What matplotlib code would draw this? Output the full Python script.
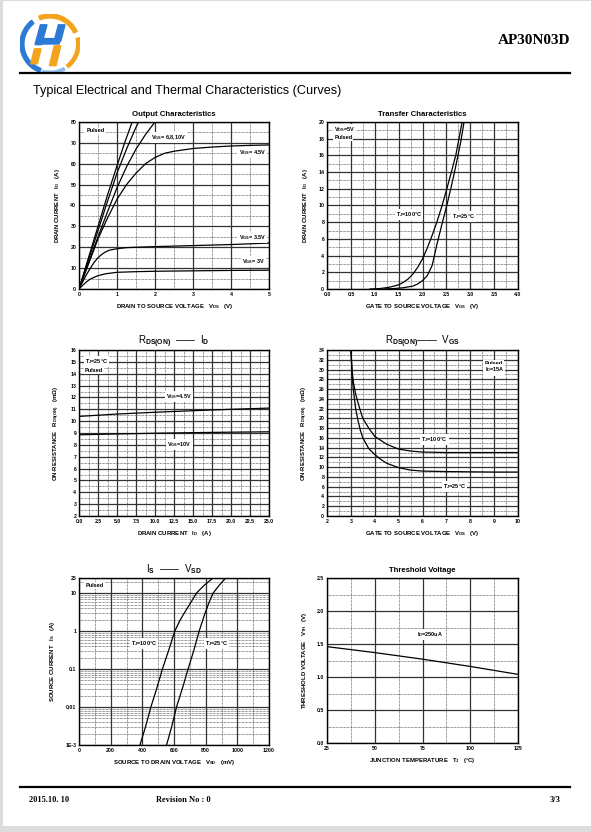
import numpy as np
import matplotlib
matplotlib.use("Agg")
import matplotlib.pyplot as plt
from matplotlib.ticker import MultipleLocator, LogLocator, NullFormatter
from matplotlib.patches import Rectangle, Wedge, Polygon
from matplotlib.lines import Line2D

# ---- data ----
# Output characteristics (VDS in V, ID in A)
vds_3v = [0, 0.1, 0.2, 0.3, 0.5, 0.7, 1.0, 1.5, 2.0, 3.0, 4.0, 5.0]
id_3v = [0, 1.8, 3.5, 4.8, 6.4, 7.3, 8.0, 8.3, 8.5, 8.7, 8.9, 9.0]
vds_35v = [0, 0.1, 0.2, 0.3, 0.4, 0.5, 0.6, 0.7, 0.8, 1.0, 1.25, 1.5, 2.0, 3.0, 4.0, 5.0]
id_35v = [0, 3.5, 7.0, 10.0, 12.8, 15.0, 16.6, 17.8, 18.6, 19.3, 19.8, 20.0, 20.3, 20.8, 21.3, 22.0]
vds_45v = [0, 0.25, 0.5, 0.75, 1.0, 1.25, 1.5, 1.75, 2.0, 2.25, 2.5, 3.0, 3.5, 4.0, 4.5, 5.0]
id_45v = [0, 12, 24, 34, 43, 50, 55.5, 60, 63, 65, 66, 67.3, 68, 68.5, 68.8, 69]
vds_6v = [0, 0.25, 0.5, 0.75, 1.0, 1.25, 1.5, 1.75, 2.0]
id_6v = [0, 12.5, 25, 37, 48.5, 58.5, 67, 74, 80]
vds_8v = [0, 0.25, 0.5, 0.75, 1.0, 1.25, 1.5, 1.57]
id_8v = [0, 14, 28, 42, 55.5, 67, 77.5, 80]
vds_10v = [0, 0.25, 0.5, 0.75, 1.0, 1.2, 1.4]
id_10v = [0, 15, 30, 45, 59, 70, 80]

# Transfer characteristics (VGS in V, ID in A)
vgs_25 = [1.2, 1.4, 1.6, 1.8, 1.9, 2.0, 2.1, 2.2, 2.25, 2.3, 2.4, 2.5, 2.6, 2.7, 2.8, 2.87]
id_25 = [0, 0.05, 0.15, 0.35, 0.6, 1.0, 1.6, 2.8, 4.0, 5.3, 7.6, 9.8, 12.2, 14.8, 17.6, 20]
vgs_100 = [0.9, 1.1, 1.3, 1.5, 1.6, 1.7, 1.8, 1.9, 2.0, 2.1, 2.2, 2.3, 2.4, 2.5, 2.6, 2.7, 2.83]
id_100 = [0, 0.05, 0.2, 0.5, 0.8, 1.2, 1.8, 2.6, 3.6, 4.9, 6.4, 8.0, 9.8, 11.8, 13.9, 16.1, 20]

# RDS(on) vs ID (A, mOhm)
id_r = [0, 5, 10, 15, 20, 25]
r_45v = [10.4, 10.6, 10.75, 10.88, 11.0, 11.1]
r_10v = [8.85, 8.92, 8.98, 9.03, 9.07, 9.1]

# RDS(on) vs VGS (V, mOhm)
vgs_r100 = [3.0, 3.05, 3.1, 3.2, 3.3, 3.4, 3.5, 3.75, 4.0, 4.5, 5.0, 5.5, 6.0, 7.0, 8.0, 9.0, 10.0]
r_100 = [34, 30, 27.5, 25, 23.2, 21.5, 20, 18, 16.3, 14.7, 13.7, 13.3, 13.1, 13, 13, 13, 13]
vgs_r25 = [3.0, 3.05, 3.1, 3.2, 3.3, 3.4, 3.5, 3.75, 4.0, 4.25, 4.5, 5.0, 5.5, 6.0, 7.0, 8.0, 9.0, 10.0]
r_25 = [34, 29, 26, 22, 19.5, 17.5, 16, 13.8, 12.6, 11.6, 10.8, 9.9, 9.4, 9.2, 9.1, 9.05, 9, 9]

# IS vs VSD (mV, A)
vsd_100 = [385, 420, 454, 490, 527, 565, 605, 640, 675, 710, 742, 790, 847]
is_100 = [1e-3, 3e-3, 1e-2, 3e-2, 0.1, 0.3, 1, 2, 3.5, 6, 10, 16, 25]
vsd_25 = [553, 585, 616, 652, 689, 724, 759, 790, 820, 847, 885, 927]
is_25 = [1e-3, 3e-3, 1e-2, 3e-2, 0.1, 0.3, 1, 2.5, 5.5, 10, 16, 25]

# Threshold voltage vs junction temperature
tj = [25, 50, 75, 100, 125]
vth = [1.46, 1.37, 1.27, 1.16, 1.04]

# tick labels
out_xt = ["0", "1", "2", "3", "4", "5"]
out_yt = [str(v) for v in range(0, 81, 10)]
tr_xt = ["0.0", "0.5", "1.0", "1.5", "2.0", "2.5", "3.0", "3.5", "4.0"]
tr_yt = [str(v) for v in range(0, 21, 2)]
rid_xt = ["0.0", "2.5", "5.0", "7.5", "10.0", "12.5", "15.0", "17.5", "20.0", "22.5", "25.0"]
rid_yt = [str(v) for v in range(2, 17)]
rvg_xt = [str(v) for v in range(2, 11)]
rvg_yt = [str(v) for v in range(0, 35, 2)]
is_xt = [str(v) for v in range(0, 1201, 200)]
is_yv = [1e-3, 1e-2, 0.1, 1, 10, 25]
is_yt = ["1E-3", "0.01", "0.1", "1", "10", "25"]
th_xt = ["25", "50", "75", "100", "125"]
th_yt = ["0.0", "0.5", "1.0", "1.5", "2.0", "2.5"]

# ---- page ----
plt.rcParams["font.family"] = ["Liberation Sans", "DejaVu Sans"]
plt.rcParams["mathtext.fontset"] = "custom"
plt.rcParams["mathtext.rm"] = "Liberation Sans:bold"
plt.rcParams["mathtext.it"] = "Liberation Sans:bold"
plt.rcParams["mathtext.bf"] = "Liberation Sans:bold"

W, H = 591, 832
fig = plt.figure(figsize=(W / 100, H / 100), dpi=100, facecolor="#dcdcdc")
fig.add_artist(Rectangle((3 / W, 6 / H), 1 - 3 / W, 1 - 7 / H, transform=fig.transFigure,
                         facecolor="white", edgecolor="none", zorder=-10))


def px_axes(x0, y0, x1, y1):
    return fig.add_axes([x0 / W, 1 - y1 / H, (x1 - x0) / W, (y1 - y0) / H])


def fy(y):
    return 1 - y / H


# logo
lg = px_axes(20, 13, 80, 75)
lg.set_xlim(-1, 1)
lg.set_ylim(-1, 1)
lg.set_aspect("equal")
lg.axis("off")
orange, blue = "#f4a31c", "#2b7bd6"
lg.add_patch(Wedge((0, 0), 1.0, 25, 112, width=0.13, color=orange))
lg.add_patch(Wedge((0, 0), 1.0, 128, 250, width=0.13, color=blue))
lg.add_patch(Wedge((0, 0), 1.0, 255, 300, width=0.09, color="#8dbbee"))
lg.add_patch(Wedge((0, 0), 1.0, 308, 12, width=0.11, color=orange))
lg.add_patch(Polygon([(-0.50, -0.02), (-0.28, -0.02), (-0.10, 0.64), (-0.32, 0.64)], color=blue))
lg.add_patch(Polygon([(-0.44, 0.00), (0.30, 0.00), (0.35, 0.18), (-0.39, 0.18)], color=blue))
lg.add_patch(Polygon([(-0.64, -0.66), (-0.42, -0.66), (-0.30, -0.16), (-0.52, -0.16)], color=orange))
lg.add_patch(Polygon([(0.14, 0.10), (0.36, 0.10), (0.50, 0.64), (0.28, 0.64)], color=blue))
lg.add_patch(Polygon([(-0.02, -0.72), (0.20, -0.72), (0.36, -0.06), (0.14, -0.06)], color=orange))

fig.text(570 / W, fy(40), "AP30N03D", ha="right", va="center", family="Liberation Serif",
         fontsize=11, fontweight="bold")
fig.add_artist(Line2D([20 / W, 570 / W], [fy(73), fy(73)], color="black", lw=1.6))
fig.text(33 / W, fy(91), "Typical Electrical and Thermal Characteristics (Curves)",
         ha="left", va="center", fontsize=9.1, color="black")

fig.add_artist(Line2D([20 / W, 570 / W], [fy(787), fy(787)], color="black", lw=1.6))
for x, s, ha in [(29, "2015.10. 10", "left"), (156, "Revision No : 0", "left"), (561, "3/3", "right")]:
    fig.text(x / W, fy(800), s, ha=ha, va="center", family="Liberation Serif",
             fontsize=6, fontweight="bold")

TICK_FS = 3.7
LAB_FS = 4.3
NOTE_FS = 4.0


def style(ax, xmaj, xmin, ymaj, ymin, log_y=False):
    ax.set_axisbelow(True)
    ax.xaxis.set_major_locator(MultipleLocator(xmaj))
    ax.xaxis.set_minor_locator(MultipleLocator(xmin))
    if not log_y:
        ax.yaxis.set_major_locator(MultipleLocator(ymaj))
        ax.yaxis.set_minor_locator(MultipleLocator(ymin))
    ax.grid(which="major", color="#333333", lw=0.9, ls="-")
    ax.grid(which="minor", color="#333333", lw=0.5, ls=(0, (1, 1)))
    ax.tick_params(which="both", length=0, labelsize=TICK_FS, pad=2)
    for sp in ax.spines.values():
        sp.set_linewidth(1.0)


def note(ax, x, y, s, ha="left"):
    ax.text(x, y, s, ha=ha, va="center", fontsize=NOTE_FS, fontweight="bold", zorder=5,
            bbox=dict(facecolor="white", edgecolor="none", pad=0.8))


def labels(ax, title, xlabel, ylabel, title_fs=5.6, title_bold=True):
    ax.set_title(title, fontsize=title_fs, fontweight="bold" if title_bold else "normal", pad=4)
    ax.set_xlabel(xlabel, fontsize=LAB_FS, fontweight="bold", labelpad=4)
    ax.set_ylabel(ylabel, fontsize=LAB_FS, fontweight="bold", labelpad=6)


curve = dict(color="black", lw=0.9, zorder=3)

# 1 Output characteristics
ax1 = px_axes(79, 122, 269, 289)
ax1.set_xlim(0, 5)
ax1.set_ylim(0, 80)
for xs, ys in [(vds_3v, id_3v), (vds_35v, id_35v), (vds_45v, id_45v),
               (vds_6v, id_6v), (vds_8v, id_8v), (vds_10v, id_10v)]:
    ax1.plot(xs, ys, **curve)
style(ax1, 1, 0.5, 10, 5)
ax1.set_xticks(range(0, 6), out_xt, fontweight="bold")
ax1.set_yticks(range(0, 81, 10), out_yt, fontweight="bold")
note(ax1, 0.2, 76, "Pulsed")
note(ax1, 1.9, 72.6, "V$_{GS}$= 6,8,10V")
note(ax1, 4.2, 65.4, "V$_{GS}$= 4.5V")
note(ax1, 4.2, 24.5, "V$_{GS}$= 3.5V")
note(ax1, 4.3, 13.1, "V$_{GS}$= 3V")
labels(ax1, "Output Characteristics", "DRAIN TO SOURCE VOLTAGE   V$_{DS}$   (V)",
       "DRAIN CURRENT   I$_D$   (A)")

# 2 Transfer characteristics
ax2 = px_axes(327, 122, 518, 289)
ax2.set_xlim(0, 4)
ax2.set_ylim(0, 20)
ax2.plot(vgs_25, id_25, **curve)
ax2.plot(vgs_100, id_100, **curve)
style(ax2, 0.5, 0.25, 2, 1)
ax2.set_xticks(np.arange(0, 4.01, 0.5), tr_xt, fontweight="bold")
ax2.set_yticks(range(0, 21, 2), tr_yt, fontweight="bold")
note(ax2, 0.15, 19.1, "V$_{DS}$=5V")
note(ax2, 0.15, 18.1, "Pulsed")
note(ax2, 1.45, 8.9, "T$_J$=100°C")
note(ax2, 2.62, 8.7, "T$_J$=25°C")
labels(ax2, "Transfer Characteristics", "GATE TO SOURCE VOLTAGE   V$_{GS}$   (V)",
       "DRAIN CURRENT   I$_D$   (A)")

# 3 RDS(on) vs ID
ax3 = px_axes(79, 350, 269, 516)
ax3.set_xlim(0, 25)
ax3.set_ylim(2, 16)
ax3.plot(id_r, r_45v, **curve)
ax3.plot(id_r, r_10v, **curve)
style(ax3, 2.5, 1.25, 1, 0.5)
ax3.set_xticks(np.arange(0, 25.01, 2.5), rid_xt, fontweight="bold")
ax3.set_yticks(range(2, 17), rid_yt, fontweight="bold")
note(ax3, 0.8, 15.0, "T$_J$=25°C")
note(ax3, 0.8, 14.25, "Pulsed")
note(ax3, 11.5, 12.1, "V$_{GS}$=4.5V")
note(ax3, 11.6, 8.0, "V$_{GS}$=10V")
labels(ax3, "R$_{DS(ON)}$  ——  I$_D$", "DRAIN CURRENT   I$_D$   (A)",
       "ON-RESISTANCE   R$_{DS(ON)}$   (mΩ)", title_fs=7, title_bold=False)

# 4 RDS(on) vs VGS
ax4 = px_axes(327, 350, 518, 516)
ax4.set_xlim(2, 10)
ax4.set_ylim(0, 34)
ax4.plot(vgs_r100, r_100, **curve)
ax4.plot(vgs_r25, r_25, **curve)
style(ax4, 1, 0.5, 2, 1)
ax4.set_xticks(range(2, 11), rvg_xt, fontweight="bold")
ax4.set_yticks(range(0, 35, 2), rvg_yt, fontweight="bold")
note(ax4, 8.6, 31.3, "Pulsed")
note(ax4, 8.6, 29.9, "I$_D$=15A")
note(ax4, 5.95, 15.6, "T$_J$=100°C")
note(ax4, 6.85, 6.0, "T$_J$=25°C")
labels(ax4, "R$_{DS(ON)}$——  V$_{GS}$", "GATE TO SOURCE VOLTAGE   V$_{GS}$   (V)",
       "ON-RESISTANCE   R$_{DS(ON)}$   (mΩ)", title_fs=7, title_bold=False)

# 5 IS vs VSD
ax5 = px_axes(79, 578, 269, 745)
ax5.set_yscale("log")
ax5.set_xlim(0, 1200)
ax5.set_ylim(1e-3, 25)
ax5.plot(vsd_100, is_100, **curve)
ax5.plot(vsd_25, is_25, **curve)
ax5.yaxis.set_minor_locator(LogLocator(base=10, subs=np.arange(2, 10), numticks=20))
ax5.yaxis.set_minor_formatter(NullFormatter())
style(ax5, 200, 100, None, None, log_y=True)
ax5.set_xticks(range(0, 1201, 200), is_xt, fontweight="bold")
ax5.set_yticks(is_yv, is_yt, fontweight="bold")
note(ax5, 40, 16, "Pulsed")
note(ax5, 330, 0.47, "T$_J$=100°C")
note(ax5, 795, 0.47, "T$_J$=25°C")
labels(ax5, "I$_S$  ——  V$_{SD}$", "SOURCE TO DRAIN VOLTAGE   V$_{SD}$   (mV)",
       "SOURCE CURRENT   I$_S$   (A)", title_fs=7, title_bold=False)

# 6 Threshold voltage
ax6 = px_axes(327, 578, 518, 743)
ax6.set_xlim(25, 125)
ax6.set_ylim(0, 2.5)
ax6.plot(tj, vth, **curve)
style(ax6, 25, 12.5, 0.5, 0.25)
ax6.set_xticks(range(25, 126, 25), th_xt, fontweight="bold")
ax6.set_yticks(np.arange(0, 2.51, 0.5), th_yt, fontweight="bold")
note(ax6, 72, 1.65, "I$_D$=250uA")
labels(ax6, "Threshold Voltage", "JUNCTION TEMPERATURE   T$_J$   (°C)",
       "THRESHOLD VOLTAGE   V$_{TH}$   (V)")

fig.savefig("out.png", dpi=100, facecolor=fig.get_facecolor())
